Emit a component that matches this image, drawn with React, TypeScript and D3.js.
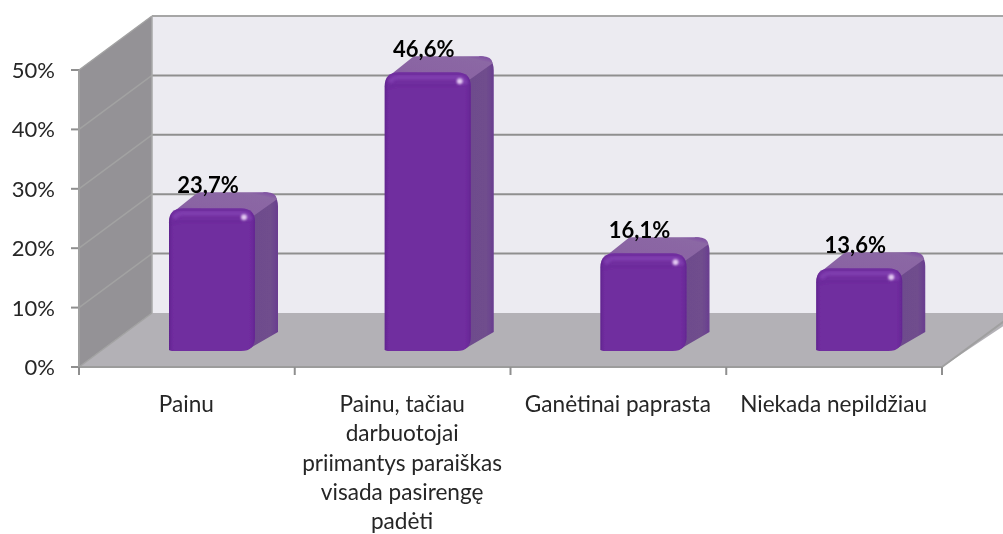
import React from "react";
import * as d3 from "d3";

const categories = ["Painu", "Painu, tačiau darbuotojai priimantys paraiškas visada pasirengę padėti", "Ganėtinai paprasta", "Niekada nepildžiau"];
const categoryLines = [["Painu"], ["Painu, tačiau", "darbuotojai", "priimantys paraiškas", "visada pasirengę", "padėti"], ["Ganėtinai paprasta"], ["Niekada nepildžiau"]];
const values = [23.7, 46.6, 16.1, 13.6];
const valueLabels = ["23,7%", "46,6%", "16,1%", "13,6%"];
const yTicks = [0, 10, 20, 30, 40, 50];

const W = 1003, H = 534;
const x = d3.scaleBand<string>().domain(categories).range([79, 942]).padding(0);
const y = d3.scaleLinear().domain([0, 50]).range([367, 70]);
const DX = 73, DY = -54;
const barDX = 23, barDY = -16;
const barW = 86, barBaseOffset = 18, barShift = 90;
const FONT = "Lato, 'Open Sans', sans-serif";

function Bar({ cat, v, label }: { cat: string; v: number; label: string }) {
  const x0 = (x(cat) as number) + barShift;
  const x1 = x0 + barW;
  const bottom = 351;
  const top = y(v) - barBaseOffset;
  const r = 14;
  const front = `M${x0},${bottom - 1} L${x0},${top + r} Q${x0},${top} ${x0 + r},${top} L${x1 - r},${top} Q${x1},${top} ${x1},${top + r} L${x1},${bottom - r} Q${x1},${bottom} ${x1 - r},${bottom} L${x0 + 3},${bottom} Z`;
  const side = `M${x1 - r},${top} L${x1 - r + barDX},${top + barDY} Q${x1 + barDX},${top + barDY} ${x1 + barDX},${top + barDY + r} L${x1 + barDX},${bottom + barDY - 3} L${x1 - 8},${bottom - 1} L${x1 - 8},${top + 8} Z`;
  const topFace = `M${x0 + 4},${top + 4} L${x0 + barDX + 6},${top + barDY} L${x1 + barDX - 12},${top + barDY} Q${x1 + barDX - 2},${top + barDY} ${x1 + barDX - 1},${top + barDY + 7} L${x1 - 2},${top + 8} L${x1 - 12},${top + 1} Z`;
  return (
    <g>
      <path d={side} fill="url(#sideGrad)" />
      <path d={topFace} fill="url(#topGrad)" />
      <path d={front} fill="#702d9f" />
      <path d={front} fill="url(#frontH)" />
      <path d={`M${x0 + 5},${top + 10} Q${x0 + 8},${top + 5} ${x0 + r},${top + 5} L${x1 - r},${top + 5} Q${x1 - 6},${top + 5} ${x1 - 5},${top + 12}`} fill="none" stroke="#8443b4" strokeWidth={5} opacity={0.7} filter="url(#soft)" />
      <path d={`M${x0 + 3},${top + 16} Q${x0 + 6},${top + 13} ${x0 + r},${top + 13} L${x1 - r},${top + 13}`} fill="none" stroke="#5f2290" strokeWidth={1.5} opacity={0.4} filter="url(#soft)" />
      <line x1={x1 - 8} x2={x1 - 8} y1={top + 14} y2={bottom - 8} stroke="#8443b4" strokeWidth={3} opacity={0.7} filter="url(#soft)" />
      <line x1={x0 + 3} x2={x1 - 10} y1={bottom - 2} y2={bottom - 2} stroke="#561f84" strokeWidth={3} opacity={0.7} filter="url(#soft)" />
      <circle cx={x1 - 11} cy={top + 9} r={3} fill="#e3c9f2" filter="url(#soft)" />
      <text x={x0 + 39} y={top - 15} textAnchor="middle" fontFamily={FONT} fontSize={22} fontWeight={700} fill="#000">{label}</text>
    </g>
  );
}

export default function App() {
  const [lx, rx] = x.range();
  const floor = `M${lx},367 L${lx + DX},${367 + DY} L${W + 20},${367 + DY} L${rx},367 Z`;
  return (
    <svg width={W} height={H} viewBox={`0 0 ${W} ${H}`} style={{ position: "absolute", left: 0, top: 0, display: "block", background: "#fff" }}>
      <defs>
        <linearGradient id="sideGrad" x1="0" x2="1" y1="0" y2="0">
          <stop offset="0" stopColor="#6d4b8c" />
          <stop offset="0.8" stopColor="#6f4d8d" />
          <stop offset="1" stopColor="#6a3d90" />
        </linearGradient>
        <linearGradient id="topGrad" x1="0" x2="1" y1="1" y2="0">
          <stop offset="0" stopColor="#7f49a8" />
          <stop offset="0.3" stopColor="#8a64a3" />
          <stop offset="0.85" stopColor="#8b67a4" />
          <stop offset="1" stopColor="#7a44a3" />
        </linearGradient>
        <linearGradient id="frontH" x1="0" x2="1" y1="0" y2="0">
          <stop offset="0" stopColor="#5a2088" stopOpacity={0.8} />
          <stop offset="0.06" stopColor="#702d9f" stopOpacity={0} />
          <stop offset="0.92" stopColor="#702d9f" stopOpacity={0} />
          <stop offset="1" stopColor="#5a2088" stopOpacity={0.6} />
        </linearGradient>
        <filter id="soft" x="-30%" y="-30%" width="160%" height="160%">
          <feGaussianBlur stdDeviation="1" />
        </filter>
        <filter id="page" x="0" y="0" width="100%" height="100%">
          <feGaussianBlur stdDeviation="0.4" />
        </filter>
      </defs>

      <g filter="url(#page)">
        <rect x={0} y={0} width={W} height={H} fill="#fff" />
        {/* back wall */}
        <rect x={lx + DX} y={y(50) + DY} width={W + 20 - lx - DX} height={y(0) - y(50)} fill="#ecebf1" />
        {/* side wall */}
        <path d={`M${lx},${y(0)} L${lx},${y(50)} L${lx + DX},${y(50) + DY} L${lx + DX},${y(0) + DY} Z`} fill="#949296" />
        {/* floor */}
        <path d={floor} fill="#b3b1b6" />

        {/* gridlines */}
        {yTicks.map((t) => (
          <g key={t} fill="none">
            {t > 0 && <line x1={lx + DX} x2={W + 20} y1={y(t) + DY} y2={y(t) + DY} strokeWidth={2} stroke={t === 50 ? "#a6a6a6" : "#8f8f8f"} />}
            <line x1={lx} x2={lx + DX} y1={y(t)} y2={y(t) + DY} strokeWidth={1.5} stroke="#a2a2a2" />
            <line x1={lx - 8} x2={lx} y1={y(t)} y2={y(t)} strokeWidth={2} stroke="#8f8f8f" />
          </g>
        ))}
        <line x1={lx + DX} x2={lx + DX} y1={y(50) + DY} y2={y(0) + DY} stroke="#a8a8a8" strokeWidth={1.5} />
        <line x1={lx} x2={lx} y1={y(50)} y2={y(0)} stroke="#a0a0a0" strokeWidth={2} />
        <line x1={lx} x2={rx} y1={y(0)} y2={y(0)} stroke="#9c9c9c" strokeWidth={2} />
        <line x1={rx} x2={rx + DX} y1={y(0)} y2={y(0) + DY} stroke="#a0a0a0" strokeWidth={2} />
        {[...categories.map((c) => x(c) as number), rx].map((tx, i) => (
          <line key={i} x1={tx} x2={tx} y1={y(0)} y2={y(0) + 8} stroke="#8f8f8f" strokeWidth={2} />
        ))}

        {/* y labels */}
        {yTicks.map((t) => (
          <text key={t} x={55} y={y(t) + 8} textAnchor="end" fontFamily={FONT} fontSize={22} fill="#262626">{t}%</text>
        ))}

        {categories.map((c, i) => (
          <Bar key={c} cat={c} v={values[i]} label={valueLabels[i]} />
        ))}

        {/* x labels */}
        {categories.map((c, i) => (
          <text key={c} textAnchor="middle" fontFamily={FONT} fontSize={22.6} fill="#262626">
            {categoryLines[i].map((l, j) => (
              <tspan key={j} x={(x(c) as number) + x.bandwidth() / 2 - 0.5} y={412 + j * 29.25}>{l}</tspan>
            ))}
          </text>
        ))}
      </g>
    </svg>
  );
}
